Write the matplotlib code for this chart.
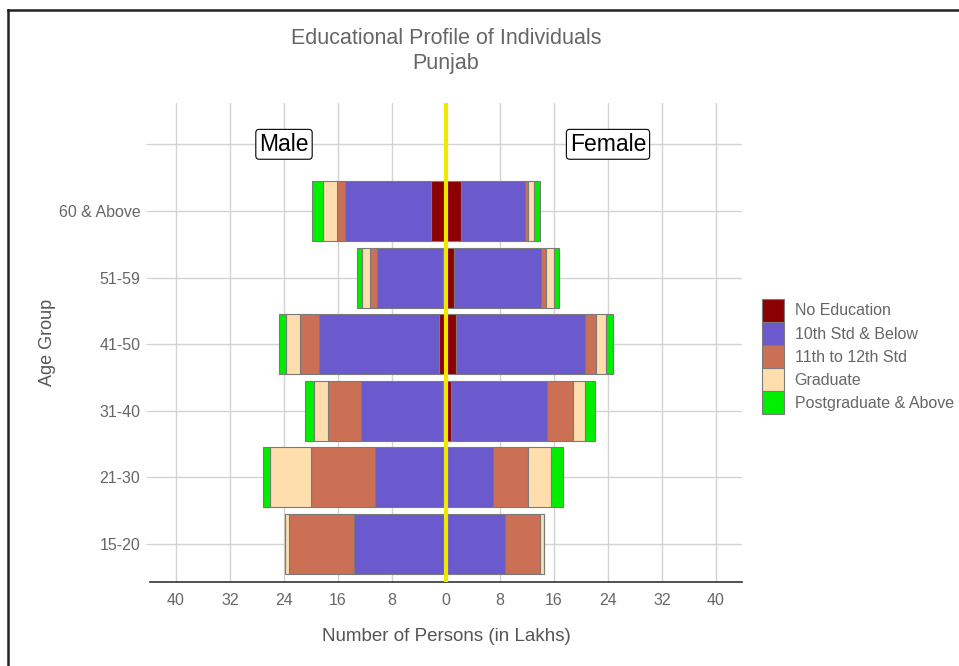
import numpy as np
import matplotlib.pyplot as plt
from matplotlib.lines import Line2D

plt.rcParams['font.family'] = ['Liberation Sans', 'DejaVu Sans']

# values in lakhs
age_groups = ['15-20', '21-30', '31-40', '41-50', '51-59', '60 & Above']
levels = ['No Education', '10th Std & Below', '11th to 12th Std', 'Graduate', 'Postgraduate & Above']
colors = ['#8B0000', '#6A5ACD', '#CC7055', '#FFDEAD', '#00EE00']

male_no_edu = [0.0, 0.05, 0.47, 1.0, 0.47, 2.15]
male_10th = [13.66, 10.44, 12.15, 17.78, 9.82, 12.74]
male_11_12 = [9.53, 9.48, 4.89, 2.92, 0.99, 1.33]
male_grad = [0.7, 6.07, 2.07, 1.93, 1.23, 2.03]
male_pg = [0.0, 1.08, 1.33, 1.14, 0.74, 1.57]

female_no_edu = [0.0, 0.05, 0.67, 1.41, 1.21, 2.15]
female_10th = [8.77, 6.94, 14.27, 19.11, 12.79, 9.53]
female_11_12 = [5.19, 5.13, 3.91, 1.63, 0.84, 0.5]
female_grad = [0.53, 3.47, 1.67, 1.53, 1.13, 0.83]
female_pg = [0.0, 1.78, 1.58, 1.1, 0.74, 0.89]

xticks = [-40, -32, -24, -16, -8, 0, 8, 16, 24, 32, 40]

fig = plt.figure(figsize=(9.59, 6.66), dpi=100)
ax = fig.add_axes([150/959, 1-582/666, 592/959, 479/666])

y = np.arange(1, len(age_groups)+1)
male = [male_no_edu, male_10th, male_11_12, male_grad, male_pg]
female = [female_no_edu, female_10th, female_11_12, female_grad, female_pg]

mleft = np.zeros(len(y))
fleft = np.zeros(len(y))
for i in range(len(levels)):
    m = np.array(male[i])
    f = np.array(female[i])
    ax.barh(y, -m, left=-mleft, height=0.9, color=colors[i], edgecolor='#7A7A7A',
            linewidth=0.8, label=levels[i], zorder=2)
    ax.barh(y, f, left=fleft, height=0.9, color=colors[i], edgecolor='#7A7A7A',
            linewidth=0.8, zorder=2)
    mleft += m
    fleft += f

ax.axvline(0, color='#F0E800', lw=3, zorder=3)

ax.text(-24, 7, 'Male', fontsize=16.5, ha='center', va='center', zorder=4,
        bbox=dict(boxstyle='round,pad=0.15', fc='white', ec='black', lw=0.8))
ax.text(24, 7, 'Female', fontsize=16.5, ha='center', va='center', zorder=4,
        bbox=dict(boxstyle='round,pad=0.15', fc='white', ec='black', lw=0.8))

ax.set_xlim(-43.85, 43.85)
ax.set_ylim(0.43, 7.62)
ax.set_xticks(xticks)
ax.set_xticklabels([str(abs(t)) for t in xticks])
ax.set_yticks(list(y) + [7])
ax.set_yticklabels(age_groups + [''])
ax.grid(True, color='#D3D3D3', lw=1.0, zorder=0)
ax.set_axisbelow(True)
for s in ['top', 'right', 'left']:
    ax.spines[s].set_visible(False)
ax.spines['bottom'].set_color('#333333')
ax.spines['bottom'].set_linewidth(1.2)
ax.tick_params(axis='x', length=0, pad=8, labelsize=11.5, labelcolor='#666666')
ax.tick_params(axis='y', length=3, color='#D3D3D3', pad=4, labelsize=11.5, labelcolor='#666666')

ax.set_xlabel('Number of Persons (in Lakhs)', fontsize=13.5, color='#555555', labelpad=14)
ax.set_ylabel('Age Group', fontsize=13, color='#555555', labelpad=2)

fig.text(446/959, 1-39/666, 'Educational Profile of Individuals', fontsize=15.5,
         color='#666666', ha='center', va='center')
fig.text(446/959, 1-63/666, 'Punjab', fontsize=15.5, color='#666666', ha='center', va='center')

# legend pulled a few px left so the last label is not clipped
leg = fig.legend(loc='upper left', bbox_to_anchor=(757/959, 1-294/666), frameon=False,
                 fontsize=11.5, handlelength=1.38, handleheight=1.85, labelspacing=0.0,
                 handletextpad=0.68, borderpad=0.3, borderaxespad=0)
for t in leg.get_texts():
    t.set_color('#666666')

# outer frame, cut off at right and bottom
fig.add_artist(Line2D([8/959, 8/959], [-0.1, 1-10/666], color='#222222', lw=1.8,
                      transform=fig.transFigure))
fig.add_artist(Line2D([8/959, 1.1], [1-10/666, 1-10/666], color='#222222', lw=1.8,
                      transform=fig.transFigure))

fig.savefig('out.png', dpi=100)
